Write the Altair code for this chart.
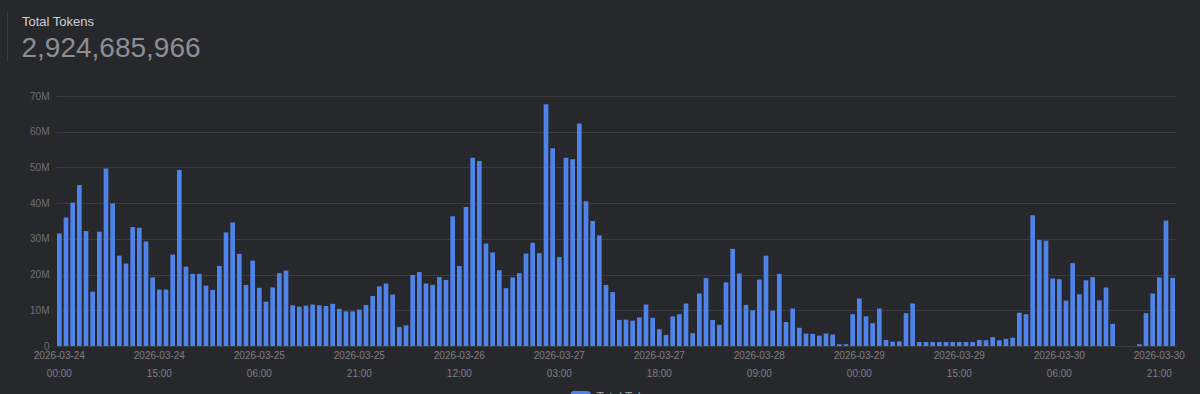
import altair as alt
import pandas as pd
import jinja2

# ---------------- data ----------------
HOURS = pd.date_range("2026-03-24 00:00", periods=168, freq="h").strftime("%Y-%m-%d %H:%M").tolist()

# hourly totals, in millions of tokens
TOKENS_M = [
    31.5, 36.0, 40.1, 45.1, 32.2, 15.2, 32.0, 49.7, 39.9, 25.3, 23.1, 33.3,
    33.1, 29.3, 19.2, 15.8, 15.8, 25.6, 49.3, 22.2, 20.2, 20.2, 16.9, 15.7,
    22.4, 31.8, 34.6, 25.8, 17.1, 23.9, 16.3, 12.4, 16.4, 20.4, 21.1, 11.4,
    11.0, 11.3, 11.6, 11.4, 11.2, 11.8, 10.4, 9.7, 9.7, 10.2, 11.5, 14.0,
    16.7, 17.5, 14.4, 5.3, 5.8, 19.9, 20.7, 17.5, 17.1, 19.3, 18.5, 36.3,
    22.4, 38.9, 52.7, 51.8, 28.7, 26.2, 21.2, 16.2, 19.2, 20.4, 25.9, 28.9,
    26.0, 67.7, 55.4, 24.9, 52.7, 52.3, 62.3, 40.5, 35.0, 31.0, 17.1, 15.1,
    7.3, 7.4, 7.1, 8.0, 11.6, 7.9, 4.7, 3.1, 8.3, 8.9, 11.9, 3.6,
    14.7, 19.0, 7.3, 5.9, 17.8, 27.2, 20.3, 11.5, 10.0, 18.6, 25.3, 9.9,
    20.2, 6.7, 10.5, 5.1, 3.5, 3.4, 2.9, 3.5, 3.2, 0.5, 0.5, 8.9,
    13.3, 8.3, 6.4, 10.5, 1.7, 1.2, 1.3, 9.2, 11.9, 1.1, 1.1, 1.1,
    1.1, 1.1, 1.1, 1.1, 1.1, 1.1, 1.7, 1.6, 2.5, 1.6, 2.0, 2.3,
    9.3, 8.9, 36.6, 29.7, 29.5, 18.9, 18.7, 12.7, 23.2, 14.5, 18.4, 19.3,
    12.8, 16.4, 6.2, 0.0, 0.0, 0.0, 0.5, 9.2, 14.7, 19.2, 35.1, 19.1,
]

TICK_LABELS = [
    "2026-03-24 00:00", "2026-03-24 15:00", "2026-03-25 06:00", "2026-03-25 21:00",
    "2026-03-26 12:00", "2026-03-27 03:00", "2026-03-27 18:00", "2026-03-28 09:00",
    "2026-03-29 00:00", "2026-03-29 15:00", "2026-03-30 06:00", "2026-03-30 21:00",
]
Y_TICKS = [0, 10, 20, 30, 40, 50, 60, 70]

TITLE = "Total Tokens"
TOTAL = "2,924,685,966"
SERIES = "Total Tokens"

# ---------------- style ----------------
BG = "#27282c"
BLUE = "#4f83ea"
GRID = "#3b3c41"
AXIS_TXT = "#7f7f85"
FONT = "Liberation Sans"

df = pd.DataFrame({"hour": HOURS, "tokens": TOKENS_M})

bars = alt.Chart(df).mark_bar(color=BLUE).encode(
    x=alt.X(
        "hour:O",
        sort=None,
        scale=alt.Scale(paddingInner=0.3, paddingOuter=0.15),
        axis=alt.Axis(
            values=TICK_LABELS,
            labelExpr="split(datum.value, ' ')",
            title=None,
            ticks=False,
            domain=False,
            grid=False,
            labelAngle=0,
            labelPadding=4,
            labelLineHeight=18,
            labelFontSize=10,
            labelColor=AXIS_TXT,
            labelFont=FONT,
            labelOverlap=False,
        ),
    ),
    y=alt.Y(
        "tokens:Q",
        scale=alt.Scale(domain=[0, 70], nice=False),
        axis=alt.Axis(
            values=Y_TICKS,
            labelExpr="datum.value == 0 ? '0' : datum.value + 'M'",
            title=None,
            ticks=False,
            domain=False,
            gridColor=GRID,
            gridWidth=1,
            labelPadding=7,
            labelFontSize=10,
            labelColor="#6e6e74",
            labelFont=FONT,
        ),
    ),
)

one = pd.DataFrame({"t": [TITLE]})
head_title = alt.Chart(one).mark_text(
    align="left", baseline="alphabetic", fontSize=13, color="#cfcfd4", font=FONT
).encode(x=alt.value(-34), y=alt.value(-70), text="t:N")

head_total = alt.Chart(pd.DataFrame({"t": [TOTAL]})).mark_text(
    align="left", baseline="alphabetic", fontSize=28, color="#8e8e95", font=FONT
).encode(x=alt.value(-34.5), y=alt.value(-39.5), text="t:N")

head_bar = alt.Chart(one).mark_rule(color="#3a3b40", strokeWidth=1).encode(
    x=alt.value(-48.5), y=alt.value(-85), y2=alt.value(-34)
)

legend_sw = alt.Chart(pd.DataFrame({"t": [SERIES]})).mark_rect(
    color=BLUE, cornerRadius=3
).encode(x=alt.value(514.7), x2=alt.value(534.7), y=alt.value(295), y2=alt.value(309))

legend_txt = alt.Chart(pd.DataFrame({"t": [SERIES]})).mark_text(
    align="left", baseline="alphabetic", fontSize=12, color="#9a9aa0", font=FONT
).encode(x=alt.value(540.5), y=alt.value(305), text="t:N")

chart = (
    alt.layer(bars, head_bar, head_title, head_total, legend_sw, legend_txt)
    .properties(
        width=1120,
        height=250,
        padding={"left": 56, "top": 96, "right": 24, "bottom": 48},
        autosize=alt.AutoSizeParams(type="none"),
        background=BG,
    )
    .configure_view(stroke=None)
)

# page template: dark page with no margin
save_kwargs = {}
try:
    from altair.utils.html import HTML_TEMPLATE as _BASE

    class _DarkPage(jinja2.Template):
        def render(self, *args, **kwargs):
            html = _BASE.render(*args, **kwargs)
            return html.replace(
                "<style>",
                "<style>\n    html, body { margin: 0; padding: 0; background: " + BG + "; overflow: hidden; }",
                1,
            )

    save_kwargs["template"] = _DarkPage("")
except Exception:
    save_kwargs = {}

chart.save("out.html", embed_options={"renderer": "svg", "actions": False}, **save_kwargs)
